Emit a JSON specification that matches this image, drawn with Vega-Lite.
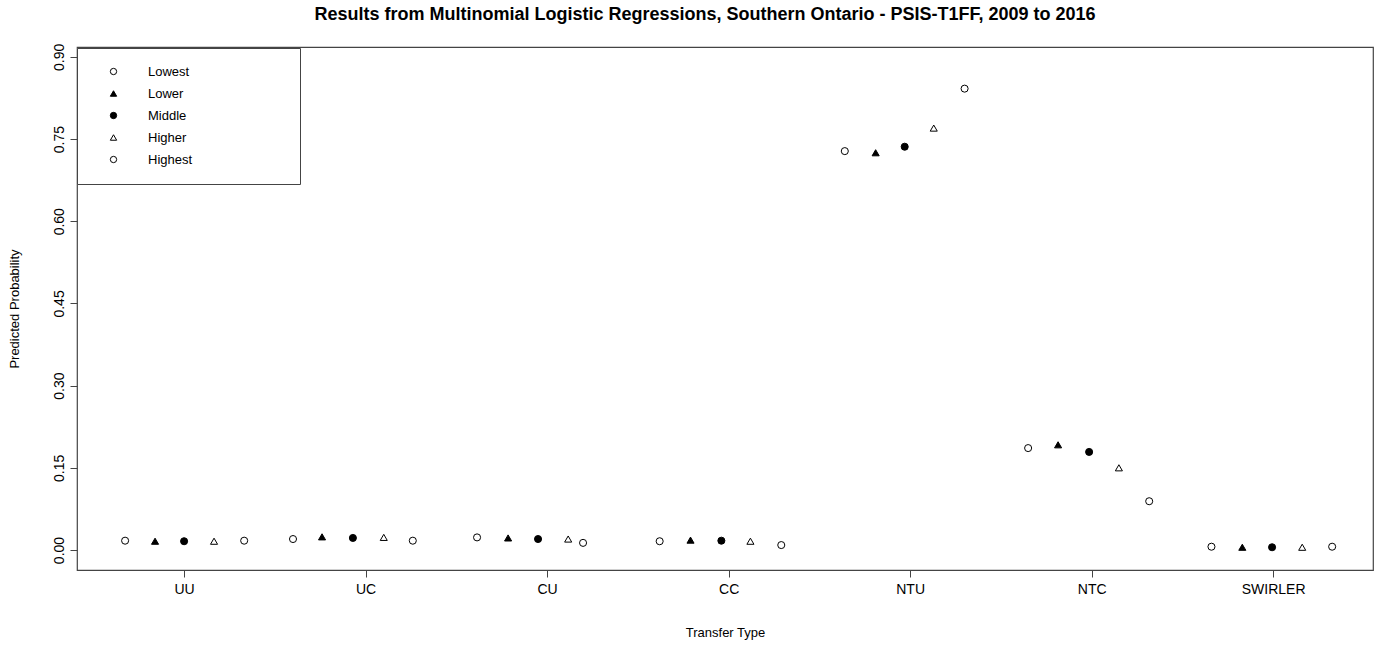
{
  "$schema": "https://vega.github.io/schema/vega-lite/v6.json",
  "autosize": "none",
  "width": 1296,
  "height": 523,
  "padding": {"left": 77, "top": 47, "right": 8, "bottom": 75},
  "background": "white",
  "title": {
    "text": "Results from Multinomial Logistic Regressions, Southern Ontario - PSIS-T1FF, 2009 to 2016",
    "font": "Liberation Sans",
    "fontSize": 18,
    "fontWeight": "bold",
    "color": "black",
    "anchor": "middle",
    "offset": 19,
    "dx": -20
  },
  "config": {
    "font": "Liberation Sans",
    "view": {"stroke": "#444", "strokeWidth": 1.2},
    "legend": {
      "titleOrient": "right",
      "titlePadding": 91,
      "orient": "none",
      "legendX": 0,
      "legendY": 1,
      "strokeColor": "#444",
      "fillColor": "white",
      "padding": 17,
      "symbolOffset": 13,
      "labelOffset": 28,
      "rowPadding": 8,
      "labelFontSize": 13,
      "labelColor": "black",
      "symbolSize": 40,
      "symbolStrokeWidth": 1
    }
  },
  "data": {
    "values": [
      {"type": "UU", "income": "Lowest", "pos": 0.675, "prob": 0.017},
      {"type": "UU", "income": "Lower", "pos": 0.840, "prob": 0.016},
      {"type": "UU", "income": "Middle", "pos": 1.000, "prob": 0.016},
      {"type": "UU", "income": "Higher", "pos": 1.165, "prob": 0.016},
      {"type": "UU", "income": "Highest", "pos": 1.331, "prob": 0.017},
      {"type": "UC", "income": "Lowest", "pos": 1.600, "prob": 0.020},
      {"type": "UC", "income": "Lower", "pos": 1.760, "prob": 0.024},
      {"type": "UC", "income": "Middle", "pos": 1.930, "prob": 0.022},
      {"type": "UC", "income": "Higher", "pos": 2.100, "prob": 0.023},
      {"type": "UC", "income": "Highest", "pos": 2.260, "prob": 0.017},
      {"type": "CU", "income": "Lowest", "pos": 2.614, "prob": 0.023},
      {"type": "CU", "income": "Lower", "pos": 2.785, "prob": 0.022},
      {"type": "CU", "income": "Middle", "pos": 2.950, "prob": 0.020},
      {"type": "CU", "income": "Higher", "pos": 3.116, "prob": 0.020},
      {"type": "CU", "income": "Highest", "pos": 3.198, "prob": 0.013},
      {"type": "CC", "income": "Lowest", "pos": 3.620, "prob": 0.016},
      {"type": "CC", "income": "Lower", "pos": 3.790, "prob": 0.018},
      {"type": "CC", "income": "Middle", "pos": 3.960, "prob": 0.017},
      {"type": "CC", "income": "Higher", "pos": 4.120, "prob": 0.016},
      {"type": "CC", "income": "Highest", "pos": 4.290, "prob": 0.009},
      {"type": "NTU", "income": "Lowest", "pos": 4.640, "prob": 0.728},
      {"type": "NTU", "income": "Lower", "pos": 4.810, "prob": 0.725},
      {"type": "NTU", "income": "Middle", "pos": 4.970, "prob": 0.736},
      {"type": "NTU", "income": "Higher", "pos": 5.130, "prob": 0.770},
      {"type": "NTU", "income": "Highest", "pos": 5.300, "prob": 0.842},
      {"type": "NTC", "income": "Lowest", "pos": 5.650, "prob": 0.186},
      {"type": "NTC", "income": "Lower", "pos": 5.815, "prob": 0.192},
      {"type": "NTC", "income": "Middle", "pos": 5.986, "prob": 0.179},
      {"type": "NTC", "income": "Higher", "pos": 6.150, "prob": 0.150},
      {"type": "NTC", "income": "Highest", "pos": 6.317, "prob": 0.089},
      {"type": "SWIRLER", "income": "Lowest", "pos": 6.660, "prob": 0.006},
      {"type": "SWIRLER", "income": "Lower", "pos": 6.830, "prob": 0.005},
      {"type": "SWIRLER", "income": "Middle", "pos": 6.994, "prob": 0.005},
      {"type": "SWIRLER", "income": "Higher", "pos": 7.160, "prob": 0.005},
      {"type": "SWIRLER", "income": "Highest", "pos": 7.325, "prob": 0.006}
    ]
  },
  "mark": {"type": "point", "filled": true, "size": 50, "strokeWidth": 1, "opacity": 1},
  "encoding": {
    "x": {
      "field": "pos",
      "type": "quantitative",
      "scale": {"domain": [0.41, 7.55], "nice": false, "zero": false},
      "axis": {
        "title": "Transfer Type",
        "values": [1, 2, 3, 4, 5, 6, 7],
        "labelExpr": "['UU','UC','CU','CC','NTU','NTC','SWIRLER'][datum.value - 1]",
        "grid": false,
        "domain": false,
        "tickSize": 7,
        "tickColor": "#444",
        "labelFontSize": 14,
        "labelColor": "black",
        "labelPadding": 5,
        "titleFontSize": 13,
        "titleFontWeight": "normal",
        "titleColor": "black",
        "titlePadding": 30
      }
    },
    "y": {
      "field": "prob",
      "type": "quantitative",
      "scale": {"domain": [-0.0365, 0.918], "nice": false, "zero": false},
      "axis": {
        "title": "Predicted Probability",
        "values": [0, 0.15, 0.3, 0.45, 0.6, 0.75, 0.9],
        "format": ".2f",
        "labelAngle": -90,
        "labelAlign": "center",
        "labelBaseline": "bottom",
        "grid": false,
        "domain": false,
        "tickSize": 7,
        "tickColor": "#444",
        "labelFontSize": 14,
        "labelColor": "black",
        "labelPadding": 4,
        "titleFontSize": 13,
        "titleFontWeight": "normal",
        "titleColor": "black",
        "titlePadding": 31
      }
    },
    "shape": {
      "field": "income",
      "type": "nominal",
      "scale": {
        "domain": ["Lowest", "Lower", "Middle", "Higher", "Highest"],
        "range": ["circle", "triangle-up", "circle", "triangle-up", "circle"]
      },
      "legend": {"title": "\u00a0", "titleOrient": "right", "titlePadding": 91}
    },
    "fill": {
      "field": "income",
      "type": "nominal",
      "scale": {
        "domain": ["Lowest", "Lower", "Middle", "Higher", "Highest"],
        "range": ["white", "black", "black", "white", "white"]
      },
      "legend": {"title": "\u00a0", "titleOrient": "right", "titlePadding": 91}
    },
    "stroke": {
      "field": "income",
      "type": "nominal",
      "scale": {
        "domain": ["Lowest", "Lower", "Middle", "Higher", "Highest"],
        "range": ["black", "black", "black", "black", "black"]
      },
      "legend": {"title": "\u00a0", "titleOrient": "right", "titlePadding": 91}
    }
  }
}
